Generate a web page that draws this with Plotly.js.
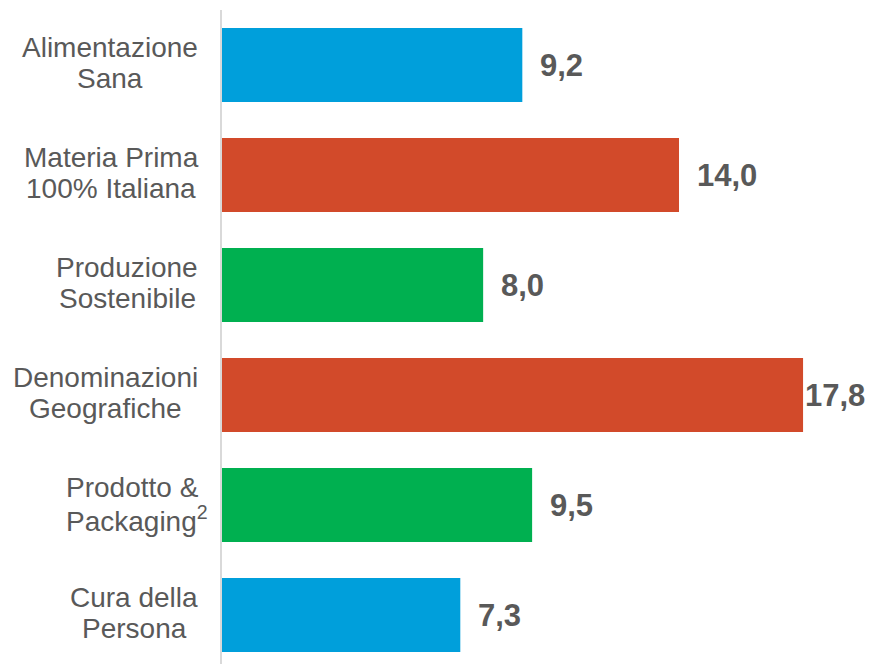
<!DOCTYPE html>
<html>
<head>
<meta charset="utf-8">
<script src="https://cdn.plot.ly/plotly-3.0.1.min.js"></script>
<style>html,body{margin:0;padding:0;background:#fff;}#chart{width:869px;height:664px;}</style>
</head>
<body>
<div id="chart"></div>
<script>
const categories = ["Alimentazione<br>Sana", "Materia Prima<br>100% Italiana", "Produzione<br>Sostenibile", "Denominazioni<br>Geografiche", "Prodotto &<br>Packaging<sup>2</sup>", "Cura della<br>Persona"];
const values = [9.2, 14.0, 8.0, 17.8, 9.5, 7.3];
const barColors = ["#009FDB", "#D24A2A", "#00B050", "#D24A2A", "#00B050", "#009FDB"];
const valueLabels = values.map(v => v.toFixed(1).replace('.', ','));
const labelShift = [16, 16, 16, 0, 16, 16];

const ids = categories.map((c, i) => "c" + i);
const FONT = 'Liberation Sans, Arial, sans-serif';
const LABEL_SIZE = 28;
const LINE_GAP = 31;
const RIGHT_EDGE = 197; // px from left of page where label blocks end

const ctx = document.createElement('canvas').getContext('2d');
ctx.font = LABEL_SIZE + "px 'Liberation Sans'";
function plainWidth(s) { return ctx.measureText(s.replace(/<sup>.*?<\/sup>/g, '')).width; }

const trace = {
  type: 'bar',
  orientation: 'h',
  x: values,
  y: ids,
  marker: {color: barColors},
  hoverinfo: 'none',
  textposition: 'none'
};

const plotLeft = 222;
const annotations = [];
categories.forEach((c, i) => {
  const lines = c.split('<br>');
  const blockW = Math.max(...lines.map(plainWidth));
  const centerX = RIGHT_EDGE - blockW / 2;
  lines.forEach((ln, k) => {
    const lw = plainWidth(ln);
    annotations.push({
      xref: 'paper', yref: 'y', x: 0, y: ids[i],
      text: ln, showarrow: false, xanchor: 'left', yanchor: 'middle',
      xshift: (centerX - lw / 2) - plotLeft - 1,
      yshift: (lines.length - 1) / 2 * LINE_GAP - k * LINE_GAP + 2,
      font: {family: FONT, size: LABEL_SIZE, color: '#595959'}
    });
  });
  annotations.push({
    xref: 'x', yref: 'y', x: values[i], y: ids[i],
    text: '<b>' + valueLabels[i] + '</b>', showarrow: false, xanchor: 'left', yanchor: 'middle',
    xshift: labelShift[i],
    font: {family: FONT, size: 31, color: '#595959'}
  });
});

const layout = {
  width: 869, height: 664,
  margin: {l: plotLeft, r: 0, t: 10, b: 0},
  paper_bgcolor: '#fff', plot_bgcolor: '#fff',
  showlegend: false,
  bargap: 0.327,
  xaxis: {range: [0, 19.82], showgrid: false, zeroline: false, showticklabels: false, showline: false, fixedrange: true},
  yaxis: {type: 'category', categoryorder: 'array', categoryarray: ids, range: [5.445, -0.5],
          showticklabels: false, showgrid: false, zeroline: false, showline: true, linecolor: '#D9D9D9', linewidth: 2, ticks: ''},
  annotations: annotations
};

Plotly.newPlot('chart', [trace], layout, {staticPlot: true, displayModeBar: false});
</script>
</body>
</html>
